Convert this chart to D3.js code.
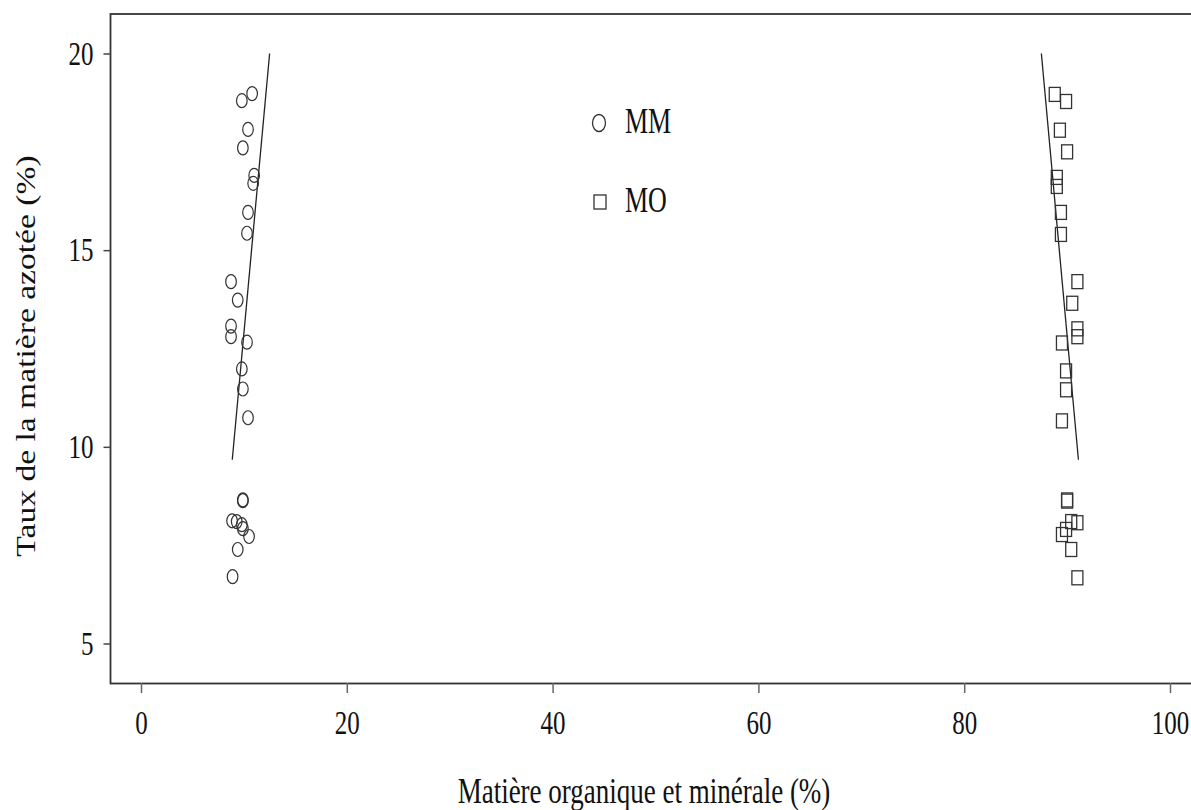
<!DOCTYPE html>
<html lang="fr">
<head>
<meta charset="utf-8">
<title>Taux de la matière azotée</title>
<script src="https://cdn.jsdelivr.net/npm/d3@7"></script>
<style>
  body { margin: 0; background: #fff; }
  svg text { font-family: "Liberation Serif", "Times New Roman", serif; fill: #111; }
</style>
</head>
<body>
<script>
// data
var mmX = [10.8, 9.8, 10.4, 9.9, 11.0, 10.9, 10.4, 10.3, 8.75, 9.4, 8.75, 8.75, 10.3, 9.8, 9.9, 10.4,
           9.9, 9.9, 8.85, 9.3, 9.8, 9.9, 10.5, 9.4, 8.9];
var mmY = [18.98, 18.8, 18.07, 17.6, 16.9, 16.7, 15.96, 15.43, 14.2, 13.73, 13.07, 12.8, 12.66, 11.98, 11.47, 10.74,
           8.65, 8.63, 8.12, 8.1, 8.02, 7.92, 7.72, 7.39, 6.7];
var moX = [88.8, 89.9, 89.3, 90.0, 89.0, 89.0, 89.4, 89.4, 91.0, 90.5, 91.0, 91.0, 89.5, 89.9, 89.9, 89.5,
           90.0, 90.0, 90.4, 91.0, 89.9, 89.5, 90.4, 91.0];
var moY = [18.96, 18.78, 18.05, 17.5, 16.85, 16.62, 15.96, 15.4, 14.2, 13.65, 13.0, 12.8, 12.64, 11.93, 11.45, 10.66,
           8.65, 8.62, 8.1, 8.07, 7.9, 7.77, 7.39, 6.67];
// fitted lines (end points)
var mmLine = [[8.87, 9.67], [12.5, 20]];
var moLine = [[91.1, 9.67], [87.5, 20]];

var xTicks = [0, 20, 40, 60, 80, 100];
var yTicks = [5, 10, 15, 20];
var legendNames = ["MM", "MO"];

var w = 1191, h = 810;
var stretch = "scale(1,1.35)";

var svg = d3.select("body").append("svg")
  .attr("width", w).attr("height", h);

var xScale = d3.scaleLinear().domain([0, 100]).range([141, 1170]);
var yScale = d3.scaleLinear().domain([5, 20]).range([643.5, 53.5]);

//frame
svg.append("rect")
  .attr("x", 110.5).attr("y", 14)
  .attr("width", 1120).attr("height", 669.5)
  .attr("fill", "none").attr("stroke", "#333").attr("stroke-width", 1.8);

//y axis
var yAxis = svg.append("g")
  .attr("transform", "translate(110.5,0)")
  .call(d3.axisLeft(yScale).tickValues(yTicks).tickSize(7).tickPadding(10));
yAxis.select(".domain").remove();
yAxis.selectAll("line").attr("stroke", "#444").attr("stroke-width", 1.5);
yAxis.selectAll("text")
  .attr("font-size", 25)
  .attr("transform", stretch)
  .attr("fill", "#111");

//x axis
var xAxis = svg.append("g")
  .attr("transform", "translate(0,683)")
  .call(d3.axisBottom(xScale).tickValues(xTicks).tickSize(10));
xAxis.select(".domain").remove();
xAxis.selectAll("line").attr("stroke", "#666").attr("stroke-width", 1.5);
xAxis.selectAll("text")
  .attr("font-size", 25)
  .attr("y", 20)
  .attr("transform", stretch)
  .attr("fill", "#111");

//axis titles
svg.append("text")
  .attr("transform", "translate(644,803) " + stretch)
  .attr("text-anchor", "middle")
  .attr("font-size", 27)
  .text("Matière organique et minérale (%)");

svg.append("text")
  .attr("transform", "translate(35,356) rotate(-90) scale(1.2,1)")
  .attr("text-anchor", "middle")
  .attr("font-size", 28)
  .text("Taux de la matière azotée (%)");

//regression lines
var line = d3.line()
  .x(function(d) { return xScale(d[0]); })
  .y(function(d) { return yScale(d[1]); });

[mmLine, moLine].forEach(function(l) {
  svg.append("path")
    .datum(l)
    .attr("d", line)
    .attr("fill", "none")
    .attr("stroke", "#222")
    .attr("stroke-width", 1.3);
});

//MM circles
svg.selectAll("ellipse.mm")
  .data(d3.range(mmX.length))
  .enter().append("ellipse")
  .attr("class", "mm")
  .attr("cx", function(i) { return xScale(mmX[i]); })
  .attr("cy", function(i) { return yScale(mmY[i]); })
  .attr("rx", 5.3).attr("ry", 7)
  .attr("fill", "none").attr("stroke", "#333").attr("stroke-width", 1.2);

//MO squares
svg.selectAll("rect.mo")
  .data(d3.range(moX.length))
  .enter().append("rect")
  .attr("class", "mo")
  .attr("x", function(i) { return xScale(moX[i]) - 5.5; })
  .attr("y", function(i) { return yScale(moY[i]) - 7; })
  .attr("width", 11).attr("height", 14)
  .attr("fill", "none").attr("stroke", "#333").attr("stroke-width", 1.3);

//legend
var leg = svg.append("g");
leg.append("ellipse")
  .attr("cx", 599).attr("cy", 123).attr("rx", 6.5).attr("ry", 8.5)
  .attr("fill", "none").attr("stroke", "#333").attr("stroke-width", 1.3);
leg.append("rect")
  .attr("x", 594).attr("y", 195).attr("width", 12).attr("height", 14)
  .attr("fill", "none").attr("stroke", "#333").attr("stroke-width", 1.3);
leg.selectAll("text")
  .data(legendNames)
  .enter().append("text")
  .attr("transform", function(d, i) { return "translate(625," + (133 + i * 79) + ") " + stretch; })
  .attr("font-size", 26)
  .text(function(d) { return d; });
</script>
</body>
</html>
